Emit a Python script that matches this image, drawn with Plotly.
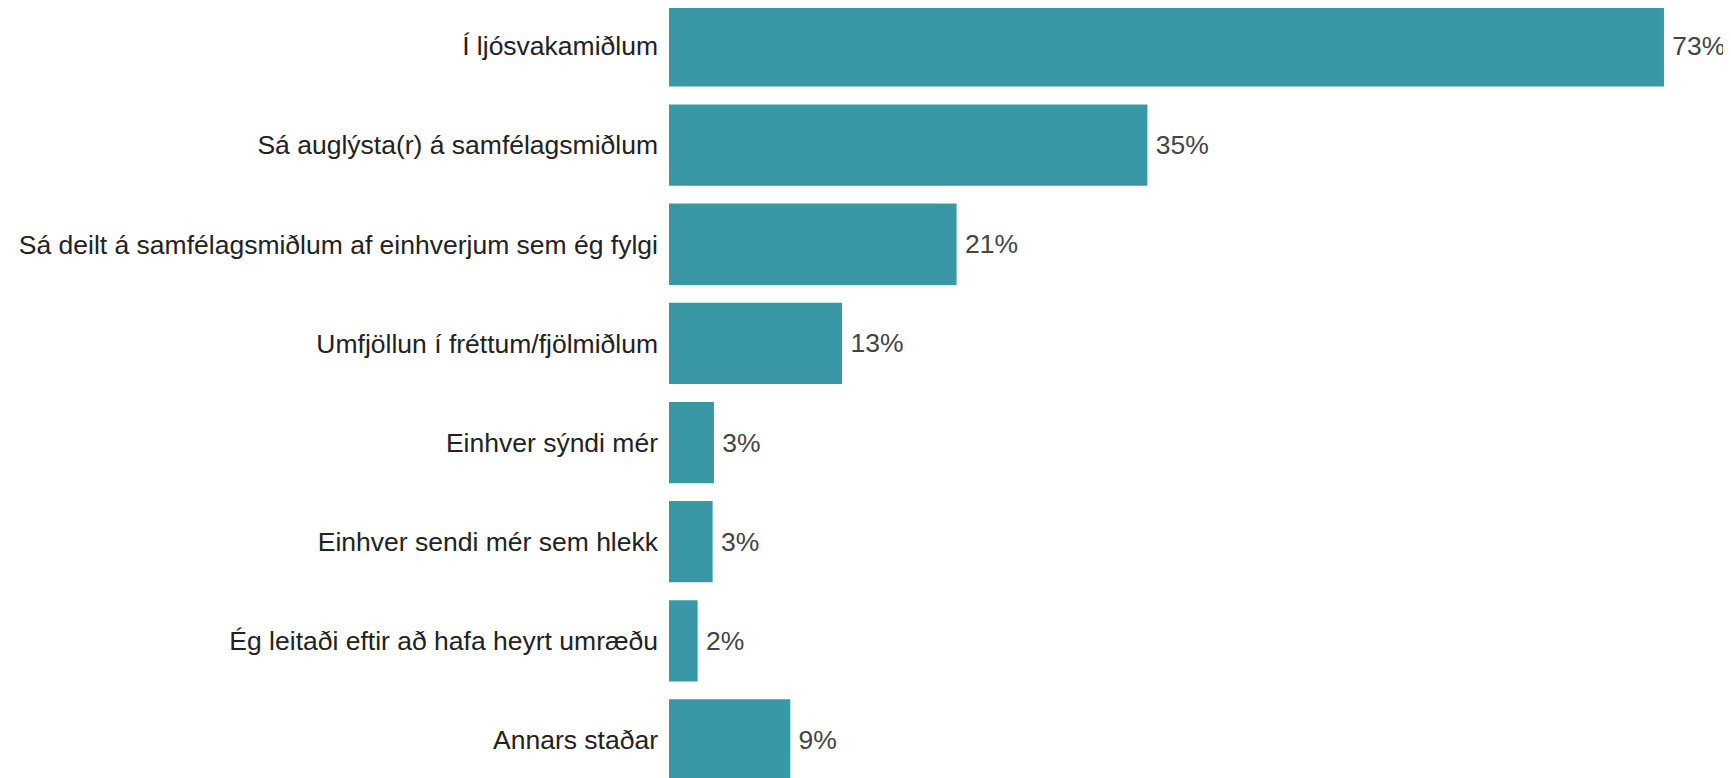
import plotly.graph_objects as go

categories = [
    "Í ljósvakamiðlum",
    "Sá auglýsta(r) á samfélagsmiðlum",
    "Sá deilt á samfélagsmiðlum af einhverjum sem ég fylgi",
    "Umfjöllun í fréttum/fjölmiðlum",
    "Einhver sýndi mér",
    "Einhver sendi mér sem hlekk",
    "Ég leitaði eftir að hafa heyrt umræðu",
    "Annars staðar",
]
values = [73.0, 35.1, 21.1, 12.7, 3.3, 3.2, 2.1, 8.9]
labels = [f"\u2009{round(v)}%" for v in values]

FONT = "Liberation Sans, Arial, sans-serif"

fig = go.Figure(
    go.Bar(
        x=values,
        y=categories,
        orientation="h",
        marker=dict(color="#3a98a6", line=dict(width=0)),
        text=labels,
        textposition="outside",
        textfont=dict(family=FONT, size=26.5, color="#444444"),
        cliponaxis=False,
    )
)

fig.update_layout(
    width=1731,
    height=778,
    margin=dict(l=661, r=0, t=0, b=0, autoexpand=False),
    paper_bgcolor="white",
    plot_bgcolor="white",
    bargap=0.18,
    showlegend=False,
    font=dict(family=FONT, size=26.5, color="#222222"),
    xaxis=dict(range=[0, 1070 / 13.63], visible=False, showgrid=False, zeroline=False),
    yaxis=dict(
        type="category",
        range=[7.464, -0.383],
        showgrid=False,
        zeroline=False,
        showline=False,
        ticks="",
        ticklabelstandoff=10,
        tickfont=dict(family=FONT, size=26.5, color="#222222"),
    ),
)

fig.write_html("out.html")
